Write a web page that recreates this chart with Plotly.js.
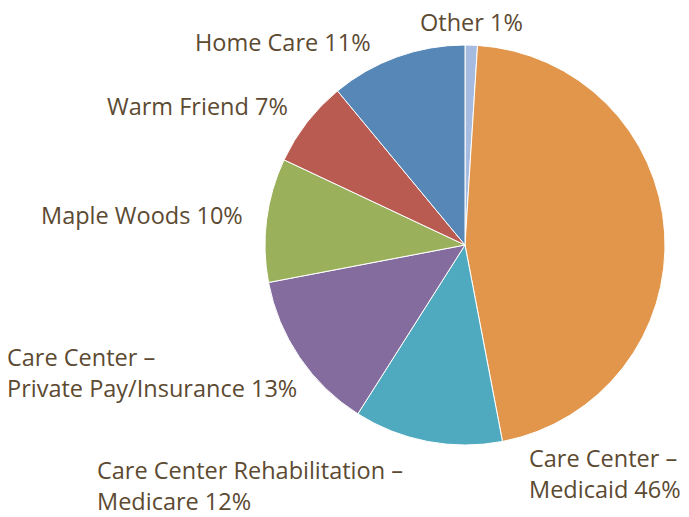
<!DOCTYPE html>
<html>
<head>
<meta charset="utf-8">
<script src="https://cdn.plot.ly/plotly-3.0.1.min.js"></script>
<style>html,body{margin:0;padding:0;background:#fff;}#chart{width:689px;height:517px;}</style>
</head>
<body>
<div id="chart"></div>
<script>
const categories = ["Other", "Care Center – Medicaid", "Care Center Rehabilitation – Medicare", "Care Center – Private Pay/Insurance", "Maple Woods", "Warm Friend", "Home Care"];
const values = [1, 46, 12, 13, 10, 7, 11];
const displayLabels = ["Other", "Care Center –<br>Medicaid", "Care Center Rehabilitation –<br>Medicare", "Care Center –<br>Private Pay/Insurance", "Maple Woods", "Warm Friend", "Home Care"];
const colors = ["#a5bbdf", "#e2964c", "#4fa9bf", "#846c9f", "#9bb05b", "#ba5b52", "#5687b7"];

// label anchor positions (pixels: left edge / vertical middle)
const labelPos = [
  [419, 22],
  [528, 473],
  [96, 485],
  [6, 372],
  [40, 215],
  [106, 106],
  [194, 42]
];

const textColor = "#5c4a32";
const annotations = categories.map((c, i) => ({
  xref: "paper", yref: "paper",
  x: labelPos[i][0] / 689, y: 1 - labelPos[i][1] / 517,
  xanchor: "left", yanchor: "middle", align: "left",
  borderpad: 0,
  text: displayLabels[i] + " " + values[i] + "%",
  showarrow: false,
  font: {family: "Open Sans, Noto Sans, sans-serif", size: 23.5, color: textColor}
}));

const trace = {
  type: "pie",
  labels: categories,
  values: values,
  sort: false,
  direction: "clockwise",
  rotation: 0,
  textinfo: "none",
  hoverinfo: "label+percent",
  marker: {colors: colors, line: {color: "#ffffff", width: 1}},
  domain: {x: [265/689, 665/689], y: [(517-445)/517, (517-45)/517]},
  showlegend: false
};

const layout = {
  width: 689, height: 517,
  margin: {l: 0, r: 0, t: 0, b: 0},
  paper_bgcolor: "#ffffff",
  showlegend: false,
  annotations: annotations
};

Plotly.newPlot("chart", [trace], layout, {displayModeBar: false, staticPlot: true});
</script>
</body>
</html>
